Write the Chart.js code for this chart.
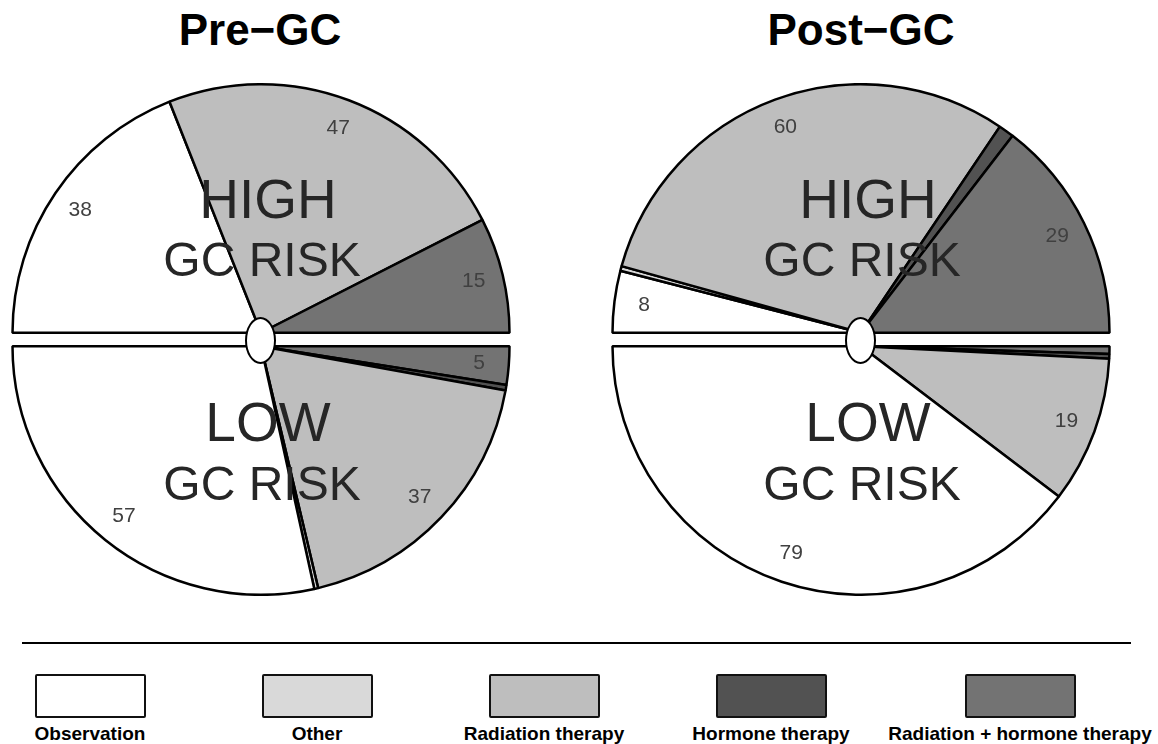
<!DOCTYPE html>
<html>
<head>
<meta charset="utf-8">
<script src="https://cdn.jsdelivr.net/npm/chart.js@4.4.0/dist/chart.umd.min.js"></script>
<style>
  body { margin: 0; background: #fff; font-family: "Liberation Sans", Arial, sans-serif; }
  #page { position: relative; width: 1158px; height: 744px; overflow: hidden; }
  .half { position: absolute; }
  .title { position: absolute; top: 8px; width: 400px; text-align: center; font-weight: bold; font-size: 44px; line-height: 44px; color: #000; }
  .hub { position: absolute; width: 31px; height: 47px; box-sizing: border-box; border: 2px solid #000; border-radius: 50%; background: #fff; top: 317px; }
  #rule { position: absolute; left: 22px; top: 642px; width: 1109px; height: 2px; background: #000; }
  .leg { position: absolute; top: 674px; width: 300px; text-align: center; }
  .leg .box { width: 111px; height: 44px; box-sizing: border-box; border: 2px solid #111; border-radius: 2px; margin: 0 auto; }
  .leg .lbl { font-weight: bold; font-size: 19px; line-height: 19px; margin-top: 6px; white-space: nowrap; color: #000; }
</style>
</head>
<body>
<div id="page">
  <div class="title" style="left:60px">Pre&#8722;GC</div>
  <div class="title" style="left:661px">Post&#8722;GC</div>
  <canvas id="preHigh" class="half" width="500" height="251" style="left:11px;top:83px"></canvas>
  <canvas id="preLow" class="half" width="500" height="251" style="left:11px;top:345px"></canvas>
  <canvas id="postHigh" class="half" width="500" height="251" style="left:611px;top:83px"></canvas>
  <canvas id="postLow" class="half" width="500" height="251" style="left:611px;top:345px"></canvas>
  <div class="hub" style="left:245px"></div>
  <div class="hub" style="left:845px"></div>
  <div id="rule"></div>
  <div id="legend"></div>
</div>
<script>
// treatment categories and fill colours
const categories = ['Observation', 'Other', 'Radiation therapy', 'Hormone therapy', 'Radiation + hormone therapy'];
const colors = ['#ffffff', '#d9d9d9', '#bebebe', '#525252', '#737373'];

// percentages per half pie
const preHigh = [38, 0, 47, 0, 15];
const preLow = [57, 0.5, 37, 0.7, 5];
const postHigh = [8, 0.6, 60, 2, 29];
const postLow = [79, 0, 19, 0.6, 1];

const highText = ['HIGH', 'GC RISK'];
const lowText = ['LOW', 'GC RISK'];

const FONT = '"Liberation Sans", Arial, sans-serif';

// numbers inside slices + big risk text
const pieText = {
  id: 'pieText',
  afterDatasetsDraw(chart, args, opts) {
    const ctx = chart.ctx;
    const arcs = chart.getDatasetMeta(0).data;
    const values = chart.data.datasets[0].data;
    ctx.save();
    ctx.textAlign = 'center';
    ctx.textBaseline = 'middle';
    ctx.fillStyle = '#404040';
    ctx.font = '21px ' + FONT;
    arcs.forEach((arc, i) => {
      if (values[i] < 3) return;
      const p = arc.getProps(['x', 'y', 'startAngle', 'endAngle', 'outerRadius'], true);
      const mid = (p.startAngle + p.endAngle) / 2;
      const r = p.outerRadius * 0.88;
      ctx.fillText(String(values[i]), p.x + Math.cos(mid) * r, p.y + Math.sin(mid) * r);
    });
    const c = arcs[0];
    ctx.fillStyle = '#262626';
    ctx.textBaseline = 'alphabetic';
    const top = opts.top;
    ctx.font = '55px ' + FONT;
    ctx.fillText(opts.lines[0], c.x + 7, c.y + (top ? -115 : 95));
    ctx.font = '48px ' + FONT;
    ctx.fillText(opts.lines[1], c.x + 1, c.y + (top ? -57 : 154));
    ctx.restore();
  }
};

function halfPie(id, values, top, lines) {
  // bottom halves run right -> bottom -> left, so reverse the order
  const data = top ? values : values.slice().reverse();
  const bg = top ? colors : colors.slice().reverse();
  const labels = top ? categories : categories.slice().reverse();
  return new Chart(document.getElementById(id), {
    type: 'pie',
    data: {
      labels: labels,
      datasets: [{
        data: data,
        backgroundColor: bg,
        borderColor: '#000',
        borderWidth: 2.5,
        hoverBorderWidth: 2.5,
        rotation: top ? -90 : 90,
        circumference: 180
      }]
    },
    options: {
      responsive: false,
      animation: false,
      events: [],
      layout: { padding: 0 },
      plugins: {
        legend: { display: false },
        tooltip: { enabled: false },
        pieText: { top: top, lines: lines }
      }
    },
    plugins: [pieText]
  });
}

halfPie('preHigh', preHigh, true, highText);
halfPie('preLow', preLow, false, lowText);
halfPie('postHigh', postHigh, true, highText);
halfPie('postLow', postLow, false, lowText);

// legend under the rule
const legendCenters = [90, 317, 544, 771, 1020];
const legend = document.getElementById('legend');
categories.forEach((name, i) => {
  const item = document.createElement('div');
  item.className = 'leg';
  item.style.left = (legendCenters[i] - 150) + 'px';
  item.innerHTML = '<div class="box" style="background:' + colors[i] + '"></div><div class="lbl">' + name + '</div>';
  legend.appendChild(item);
});
</script>
</body>
</html>
